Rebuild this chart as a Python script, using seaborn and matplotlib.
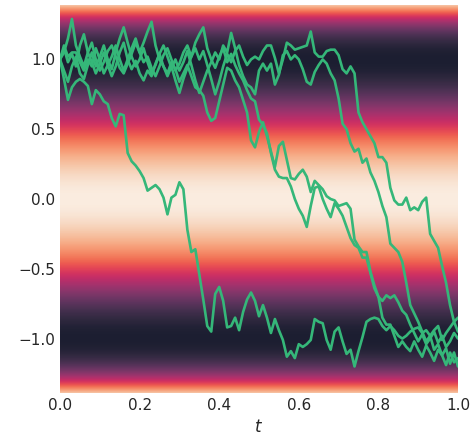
import numpy as np
import pandas as pd
import matplotlib
matplotlib.use("Agg")
import matplotlib.pyplot as plt
import seaborn as sns

# time grid of the sampled trajectories
t = np.round(np.linspace(0.0, 1.0, 101), 2)

path_a = [1.00, 0.86, 0.71, 0.80, 0.84, 0.86, 0.84, 0.81, 0.68, 0.78,
          0.75, 0.70, 0.68, 0.58, 0.52, 0.61, 0.60, 0.33, 0.27, 0.24,
          0.20, 0.15, 0.06, 0.08, 0.10, 0.07, 0.01, -0.11, 0.01, 0.03,
          0.12, 0.07, -0.22, -0.38, -0.36, -0.54, -0.72, -0.91, -0.95, -0.68,
          -0.63, -0.73, -0.92, -0.91, -0.85, -0.94, -0.81, -0.72, -0.67, -0.73,
          -0.84, -0.76, -0.85, -0.96, -0.86, -0.94, -1.01, -1.13, -1.09, -1.14,
          -1.04, -1.06, -1.04, -1.01, -0.86, -0.88, -0.89, -1.01, -1.08, -0.95,
          -0.92, -1.02, -1.11, -1.08, -1.20, -1.09, -0.99, -0.88, -0.86, -0.85,
          -0.86, -0.91, -0.94, -0.91, -0.94, -0.98, -1.00, -0.98, -0.95, -0.93,
          -0.92, -0.96, -0.94, -0.98, -0.94, -0.91, -1.01, -0.96, -0.92, -0.88,
          -0.85]

path_b = [1.00, 1.10, 1.02, 1.05, 1.05, 0.98, 0.92, 1.00, 0.95, 1.08,
          1.00, 0.90, 0.96, 0.88, 0.95, 1.05, 1.12, 1.00, 0.93, 0.99,
          0.90, 0.85, 0.92, 0.88, 0.97, 1.04, 0.95, 0.90, 0.98, 0.93,
          0.84, 0.90, 0.96, 0.88, 0.80, 0.78, 0.74, 0.62, 0.56, 0.58,
          0.70, 0.82, 0.94, 0.92, 0.85, 0.80, 0.71, 0.62, 0.42, 0.37,
          0.48, 0.55, 0.45, 0.34, 0.23, 0.38, 0.41, 0.28, 0.15, 0.14,
          0.18, 0.21, 0.16, 0.05, 0.13, 0.10, 0.07, 0.02, 0.00, -0.01,
          -0.05, -0.04, -0.03, -0.07, -0.29, -0.34, -0.38, -0.38, -0.52, -0.62,
          -0.70, -0.85, -0.90, -0.90, -0.98, -1.06, -1.02, -1.06, -1.09, -1.02,
          -1.08, -1.13, -1.05, -1.10, -1.16, -1.08, -1.12, -1.19, -1.10, -1.17,
          -1.14]

path_c = [1.00, 1.05, 1.15, 1.29, 1.10, 1.02, 0.95, 1.05, 1.12, 1.00,
          0.92, 0.98, 1.06, 1.10, 1.02, 0.94, 0.90, 0.97, 1.04, 1.12,
          1.05, 0.98, 1.02, 0.94, 0.88, 0.95, 1.03, 1.08, 1.00, 0.92,
          0.97, 1.05, 1.10, 1.02, 1.12, 1.18, 1.23, 1.08, 1.00, 0.94,
          1.02, 1.08, 0.98, 1.04, 0.96, 0.90, 0.85, 0.78, 0.72, 0.70,
          0.57, 0.53, 0.47, 0.33, 0.21, 0.16, 0.15, 0.15, 0.09, 0.00,
          -0.07, -0.12, -0.20, -0.05, 0.08, 0.09, 0.00, -0.07, -0.13, -0.03,
          -0.07, -0.12, -0.20, -0.28, -0.33, -0.35, -0.42, -0.42, -0.53, -0.64,
          -0.70, -0.73, -0.69, -0.71, -0.69, -0.74, -0.80, -0.83, -0.90, -0.96,
          -1.02, -0.97, -1.04, -1.00, -0.95, -1.03, -0.98, -1.06, -1.02, -0.96,
          -1.00]

path_d = [1.00, 0.92, 0.84, 0.95, 1.02, 0.90, 0.86, 0.96, 1.05, 0.95,
          1.02, 1.10, 1.00, 0.93, 1.05, 1.15, 1.23, 1.12, 1.02, 0.95,
          1.00, 1.08, 0.98, 0.90, 0.96, 1.04, 1.10, 1.02, 0.94, 1.00,
          0.92, 0.98, 1.06, 0.96, 0.85, 0.76, 0.84, 0.92, 0.98, 1.05,
          1.00, 1.10, 1.05, 1.19, 1.08, 0.96, 0.88, 0.82, 0.80, 0.75,
          0.92, 0.97, 0.92, 0.97, 0.82, 0.89, 1.03, 1.06, 1.00, 1.03,
          1.00, 0.93, 0.84, 0.82, 0.91, 0.96, 1.00, 0.97, 0.90, 0.85,
          0.72, 0.54, 0.50, 0.40, 0.34, 0.36, 0.26, 0.29, 0.19, 0.13,
          0.05, -0.05, -0.13, -0.32, -0.35, -0.38, -0.45, -0.60, -0.76, -0.82,
          -0.88, -0.95, -1.02, -0.98, -1.08, -1.04, -1.12, -1.07, -1.18, -1.10,
          -1.20]

path_e = [1.00, 1.08, 0.98, 1.04, 0.95, 1.10, 1.18, 1.05, 0.98, 0.90,
          0.97, 1.05, 0.96, 1.02, 1.10, 1.00, 0.92, 1.00, 1.08, 1.15,
          1.05, 1.12, 1.20, 1.27, 1.10, 1.00, 0.95, 0.88, 0.95, 0.85,
          0.76, 0.86, 0.94, 1.02, 1.08, 1.00, 1.06, 0.96, 0.86, 0.75,
          0.84, 0.95, 1.04, 0.98, 1.06, 1.10, 1.02, 0.96, 1.00, 1.02,
          1.00, 1.06, 1.10, 1.10, 1.01, 0.90, 1.00, 1.12, 1.10, 1.07,
          1.08, 1.09, 1.10, 1.20, 1.05, 1.02, 1.02, 1.06, 1.07, 1.07,
          1.03, 0.93, 0.90, 0.95, 0.90, 0.62, 0.55, 0.50, 0.45, 0.40,
          0.30, 0.30, 0.26, 0.08, -0.01, -0.04, -0.04, 0.01, -0.08, -0.06,
          -0.08, -0.02, 0.01, -0.25, -0.30, -0.35, -0.48, -0.60, -0.76, -0.88,
          -0.95]

paths = {"a": path_a, "b": path_b, "c": path_c, "d": path_d, "e": path_e}

x_ticks = [0.0, 0.2, 0.4, 0.6, 0.8, 1.0]
y_ticks = [-1.0, -0.5, 0.0, 0.5, 1.0]
y_lim = (-1.39, 1.39)

df = pd.concat(
    [pd.DataFrame({"t": t, "y": v, "path": k}) for k, v in paths.items()],
    ignore_index=True,
)

sns.set_theme(style="white")

fig = plt.figure(figsize=(4.74, 4.44), dpi=100)
ax = fig.add_axes([60 / 474, 1 - 393 / 444, 398 / 474, 388 / 444])

# double-well potential background
yy = np.linspace(y_lim[0], y_lim[1], 400)
pot = (yy ** 2 - 1) ** 2
ax.imshow(pot[:, None], extent=[0, 1, y_lim[0], y_lim[1]], origin="lower",
          aspect="auto", cmap=sns.color_palette("rocket", as_cmap=True),
          vmin=0, vmax=1, interpolation="bilinear", alpha=0.9, zorder=0)

sns.lineplot(data=df, x="t", y="y", units="path", estimator=None,
             color="#35b779", linewidth=1.9, ax=ax, zorder=2)

ax.set_xlim(0, 1)
ax.set_ylim(*y_lim)
ax.set_xticks(x_ticks)
ax.set_yticks(y_ticks)
ax.set_xlabel("$t$")
ax.set_ylabel("")
for s in ax.spines.values():
    s.set_visible(False)
ax.tick_params(length=0)

fig.savefig("out.png", dpi=100)
